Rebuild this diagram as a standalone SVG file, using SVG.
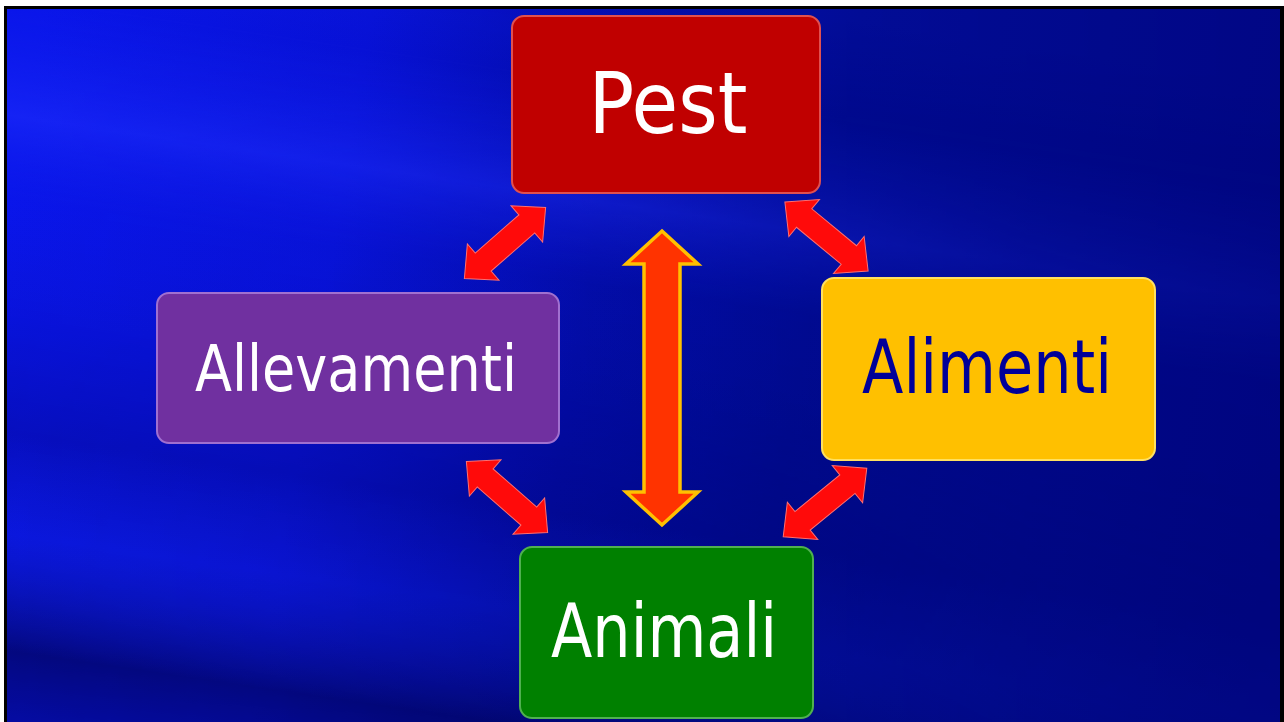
<svg xmlns="http://www.w3.org/2000/svg" width="1284" height="722" viewBox="0 0 1284 722">
  <defs>
    <linearGradient id="bgH" gradientUnits="userSpaceOnUse" x1="0" y1="250" x2="1284" y2="470">
      <stop offset="0" stop-color="#0a16ea"/>
      <stop offset="0.25" stop-color="#0812d6"/>
      <stop offset="0.45" stop-color="#030ca6"/>
      <stop offset="0.62" stop-color="#000a8e"/>
      <stop offset="1" stop-color="#000680"/>
    </linearGradient>
    <linearGradient id="stripes" gradientUnits="userSpaceOnUse" x1="300" y1="-60" x2="180" y2="760">
      <stop offset="0" stop-color="#1a28ff" stop-opacity="0.15"/>
      <stop offset="0.12" stop-color="#1020f0" stop-opacity="0"/>
      <stop offset="0.26" stop-color="#2030ff" stop-opacity="0.5"/>
      <stop offset="0.36" stop-color="#1020f0" stop-opacity="0.05"/>
      <stop offset="0.5" stop-color="#000060" stop-opacity="0.1"/>
      <stop offset="0.64" stop-color="#000060" stop-opacity="0.3"/>
      <stop offset="0.76" stop-color="#1020c0" stop-opacity="0.25"/>
      <stop offset="0.9" stop-color="#00003a" stop-opacity="0.6"/>
      <stop offset="1" stop-color="#000050" stop-opacity="0.4"/>
    </linearGradient>
    <linearGradient id="fadeH" x1="0" y1="0" x2="1" y2="0">
      <stop offset="0" stop-color="#fff"/>
      <stop offset="0.45" stop-color="#fff" stop-opacity="0.8"/>
      <stop offset="0.8" stop-color="#fff" stop-opacity="0.3"/>
      <stop offset="1" stop-color="#fff" stop-opacity="0.2"/>
    </linearGradient>
    <mask id="fadeMask" maskUnits="userSpaceOnUse" x="0" y="0" width="1284" height="722">
      <rect x="0" y="0" width="1284" height="722" fill="url(#fadeH)"/>
    </mask>
    <path id="dbl" d="M-54,0 L-29,-24 L-29,-12 L29,-12 L29,-24 L54,0 L29,24 L29,12 L-29,12 L-29,24 Z"/>
  </defs>
  <style>
    .box { stroke-width: 2; }
    .lbl { font-family: "DejaVu Sans", "Liberation Sans", sans-serif; text-anchor: middle; }
    .red { fill: #ff0a0a; stroke: #ff7070; stroke-width: 1; }
  </style>

  <rect x="0" y="0" width="1284" height="722" fill="#ffffff"/>
  <rect x="4" y="6" width="1280" height="716" fill="#000000"/>
  <g id="background">
    <rect x="7" y="9" width="1273" height="713" fill="url(#bgH)"/>
    <rect x="7" y="9" width="1273" height="713" fill="url(#stripes)" mask="url(#fadeMask)"/>
  </g>

  <g id="connectors">
    <use href="#dbl" class="red" transform="translate(505,243) rotate(-41.2)"/>
    <use href="#dbl" class="red" transform="translate(826.5,236.5) rotate(39.6)"/>
    <use href="#dbl" class="red" transform="translate(507,497) rotate(41.2)"/>
    <use href="#dbl" class="red" transform="translate(825,502.5) rotate(-39.3)"/>
    <path id="central-arrow" d="M662,231 L698,264 L680,264 L680,492 L698,492 L662,525 L626,492 L644,492 L644,264 L626,264 Z" fill="#ff3300" stroke="#ffc000" stroke-width="3.5" stroke-linejoin="miter"/>
  </g>

  <g id="node-pest">
    <rect class="box" x="512" y="16" width="308" height="177" rx="12" fill="#c00000" stroke="#e05050"/>
    <text class="lbl" x="668" y="133" font-size="86" fill="#ffffff" textLength="159" lengthAdjust="spacingAndGlyphs">Pest</text>
  </g>

  <g id="node-allevamenti">
    <rect class="box" x="157" y="293" width="402" height="150" rx="12" fill="#7030a0" stroke="#a070d0"/>
    <text class="lbl" x="356" y="391" font-size="64" fill="#ffffff" textLength="322" lengthAdjust="spacingAndGlyphs">Allevamenti</text>
  </g>

  <g id="node-alimenti">
    <rect class="box" x="822" y="278" width="333" height="182" rx="12" fill="#ffc000" stroke="#ffe060"/>
    <text class="lbl" x="987" y="393" font-size="75" fill="#000099" textLength="250" lengthAdjust="spacingAndGlyphs">Alimenti</text>
  </g>

  <g id="node-animali">
    <rect class="box" x="520" y="547" width="293" height="171" rx="12" fill="#008000" stroke="#50b050"/>
    <text class="lbl" x="664" y="657" font-size="75" fill="#ffffff" textLength="226" lengthAdjust="spacingAndGlyphs">Animali</text>
  </g>
</svg>
